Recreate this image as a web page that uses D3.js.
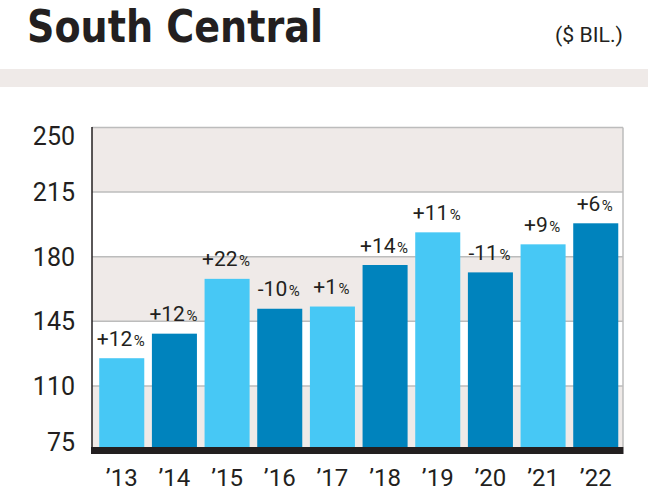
<!DOCTYPE html>
<html><head><meta charset="utf-8">
<script src="https://cdn.jsdelivr.net/npm/d3@7"></script>
<style>
html,body{margin:0;padding:0;background:#fff;}
svg{display:block;}
</style></head>
<body>
<script>
const years = ["’13","’14","’15","’16","’17","’18","’19","’20","’21","’22"];
const values = [125, 138.3, 168, 151.8, 153, 175.5, 193.2, 171.5, 186.7, 198.1];
const changes = ["+12","+12","+22","-10","+1","+14","+11","-11","+9","+6"];
const yTicks = [75, 110, 145, 180, 215, 250];
const title = "South Central";
const unit = "($ BIL.)";

const W = 648, H = 493;
const ink = "#231f20";
const light = "#47c8f5", dark = "#0083bd", band = "#efeae8", grid = "#bcbcbc";

const svg = d3.select("body").append("svg").attr("width", W).attr("height", H);

// header
svg.append("text").attr("x", 27).attr("y", 42)
  .attr("font-family", "'DejaVu Sans Condensed','DejaVu Sans',sans-serif")
  .attr("font-weight", "bold").attr("font-size", 45).attr("fill", ink)
  .attr("textLength", 296).attr("lengthAdjust", "spacingAndGlyphs")
  .text(title);
svg.append("text").attr("x", 623).attr("y", 42).attr("text-anchor", "end")
  .attr("font-family", "Roboto, sans-serif").attr("font-size", 20).attr("fill", ink)
  .attr("textLength", 68).attr("lengthAdjust", "spacingAndGlyphs")
  .text(unit);
svg.append("rect").attr("x", 0).attr("y", 69).attr("width", W).attr("height", 18).attr("fill", band);

const y = d3.scaleLinear().domain([75, 250]).range([450.5, 127.5]);
const x = d3.scaleBand().domain(years).range([94.5, 623]).paddingInner(0.145).paddingOuter(0.09);
const left = 92, right = 623;

// alternating bands
for (let i = 0; i < yTicks.length - 1; i++) {
  if (i % 2 === 0) {
    svg.append("rect").attr("x", left).attr("width", right - left)
      .attr("y", y(yTicks[i + 1])).attr("height", y(yTicks[i]) - y(yTicks[i + 1]))
      .attr("fill", band);
  }
}
// gridlines
svg.append("g").selectAll("line").data(yTicks.filter(t => t > 75)).join("line")
  .attr("x1", left).attr("x2", right)
  .attr("y1", d => y(d)).attr("y2", d => y(d))
  .attr("stroke", grid).attr("stroke-width", 1.5);
// right border
svg.append("line").attr("x1", right).attr("x2", right).attr("y1", y(250)).attr("y2", 447)
  .attr("stroke", grid).attr("stroke-width", 1.5);

// bars
svg.append("g").selectAll("rect").data(values).join("rect")
  .attr("x", (d, i) => x(years[i])).attr("width", x.bandwidth())
  .attr("y", d => y(d)).attr("height", d => 447 - y(d))
  .attr("fill", (d, i) => i % 2 === 0 ? light : dark);

// left axis line
svg.append("line").attr("x1", left).attr("x2", left).attr("y1", y(250) - 0.5).attr("y2", 447)
  .attr("stroke", ink).attr("stroke-width", 1.5);
// baseline bar
svg.append("rect").attr("x", left - 1).attr("y", 447).attr("width", right - left + 1.5).attr("height", 7).attr("fill", ink);

// y labels
svg.append("g").selectAll("text").data(yTicks).join("text")
  .attr("x", 75).attr("text-anchor", "end")
  .attr("y", d => Math.min(Math.max(y(d), y(250) + 8.5), y(75) - 8.5))
  .attr("dy", "0.36em")
  .attr("font-family", "Roboto, sans-serif").attr("font-size", 25).attr("fill", ink)
  .text(d => d);

// x labels
svg.append("g").selectAll("text").data(years).join("text")
  .attr("x", d => x(d) + x.bandwidth() / 2).attr("y", 486).attr("text-anchor", "middle")
  .attr("font-family", "Roboto, sans-serif").attr("font-size", 24).attr("fill", ink)
  .text(d => d);

// change labels
const lab = svg.append("g").selectAll("text").data(values).join("text")
  .attr("x", (d, i) => x(years[i]) + x.bandwidth() / 2 - 1)
  .attr("y", d => y(d) - 12.5).attr("text-anchor", "middle")
  .attr("font-family", "Roboto, sans-serif").attr("fill", ink);
lab.append("tspan").attr("font-size", 21).text((d, i) => changes[i]);
lab.append("tspan").attr("font-size", 15).attr("dx", 1.5).text("%");
</script>
</body></html>
